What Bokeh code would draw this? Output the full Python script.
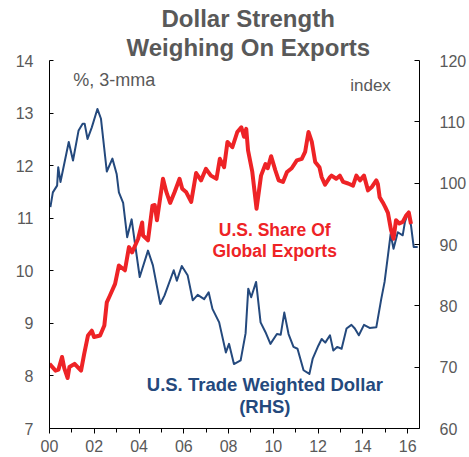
from bokeh.plotting import figure
from bokeh.models import Range1d, LinearAxis, FixedTicker, Label, Title
from bokeh.embed import file_html
from bokeh.resources import INLINE

# U.S. share of global exports (%, 3-mma), left axis
share_year = [2000.00, 2000.27, 2000.40, 2000.56, 2000.66, 2000.81, 2000.89, 2001.12, 2001.41, 2001.55,
              2001.72, 2001.89, 2001.99, 2002.26, 2002.45, 2002.56, 2002.70, 2002.93, 2003.10, 2003.37,
              2003.55, 2003.69, 2003.96, 2004.14, 2004.18, 2004.40, 2004.60, 2004.70, 2004.80, 2005.07,
              2005.22, 2005.39, 2005.59, 2005.81, 2005.93, 2006.10, 2006.33, 2006.55, 2006.77, 2006.99,
              2007.21, 2007.46, 2007.61, 2007.80, 2007.95, 2008.17, 2008.39, 2008.57, 2008.69, 2008.79,
              2008.87, 2009.06, 2009.25, 2009.45, 2009.65, 2009.75, 2009.90, 2010.09, 2010.24, 2010.43,
              2010.61, 2010.82, 2011.05, 2011.27, 2011.42, 2011.57, 2011.72, 2011.87, 2012.06, 2012.16,
              2012.31, 2012.53, 2012.60, 2012.81, 2012.97, 2013.12, 2013.34, 2013.56, 2013.71, 2013.87,
              2014.05, 2014.23, 2014.41, 2014.60, 2014.67, 2014.75, 2014.89, 2015.00, 2015.12, 2015.26,
              2015.37, 2015.48, 2015.63, 2015.78, 2015.93, 2016.05, 2016.15]
share_value = [8.23, 8.10, 8.12, 8.36, 8.15, 7.96, 8.17, 8.23, 8.10, 8.42,
               8.77, 8.86, 8.74, 8.77, 8.96, 9.40, 9.53, 9.75, 10.10, 10.01,
               10.45, 10.35, 10.61, 10.92, 10.67, 10.58, 11.24, 11.25, 10.96, 11.75,
               11.50, 11.29, 11.50, 11.75, 11.56, 11.50, 11.31, 11.86, 11.72, 11.94,
               11.81, 11.75, 12.13, 11.97, 12.45, 12.35, 12.64, 12.73, 12.55, 12.70,
               12.29, 11.88, 11.18, 11.81, 12.03, 11.95, 12.18, 11.91, 11.72, 11.69,
               11.88, 11.95, 12.10, 12.13, 12.26, 12.64, 12.45, 12.07, 11.97, 11.78,
               11.64, 11.78, 11.81, 11.75, 11.81, 11.69, 11.66, 11.62, 11.81, 11.72,
               11.81, 11.53, 11.60, 11.72, 11.65, 11.40, 11.30, 11.21, 11.10, 10.77,
               10.61, 10.96, 10.90, 10.93, 11.05, 11.11, 10.89]

# U.S. trade weighted dollar (index), right axis
dollar_year = [2000.04, 2000.15, 2000.34, 2000.39, 2000.49, 2000.86, 2001.05, 2001.30, 2001.48, 2001.57,
               2001.70, 2001.89, 2002.14, 2002.30, 2002.56, 2002.81, 2003.00, 2003.10, 2003.29, 2003.47,
               2003.67, 2003.81, 2004.03, 2004.40, 2004.62, 2004.95, 2005.14, 2005.55, 2005.69, 2005.91,
               2006.17, 2006.40, 2006.62, 2006.91, 2007.11, 2007.28, 2007.58, 2007.88, 2008.02, 2008.24,
               2008.54, 2008.76, 2008.88, 2009.01, 2009.23, 2009.43, 2009.65, 2009.87, 2010.16, 2010.33,
               2010.49, 2010.68, 2010.90, 2011.08, 2011.35, 2011.61, 2011.76, 2012.01, 2012.16, 2012.32,
               2012.53, 2012.68, 2012.85, 2013.05, 2013.27, 2013.49, 2013.64, 2013.82, 2014.05, 2014.30,
               2014.60, 2014.82, 2014.97, 2015.12, 2015.24, 2015.37, 2015.56, 2015.78, 2015.88, 2016.03,
               2016.15, 2016.27, 2016.45]
dollar_value = [96.1, 98.5, 99.6, 102.6, 100.2, 106.7, 103.7, 108.6, 109.7, 109.7,
                107.2, 109.1, 112.1, 110.5, 101.9, 104.0, 101.5, 98.5, 96.8, 91.2,
                94.1, 90.4, 84.7, 89.0, 86.6, 80.3, 81.7, 85.8, 84.1, 86.5,
                85.0, 80.9, 81.8, 81.1, 82.2, 79.5, 77.3, 72.4, 73.8, 70.5,
                71.1, 75.5, 82.8, 81.4, 83.9, 77.3, 75.7, 73.8, 75.4, 75.3,
                78.9, 75.4, 73.3, 73.0, 69.5, 68.9, 71.4, 73.5, 74.6, 74.0,
                75.2, 72.7, 73.3, 73.0, 76.3, 76.9, 76.3, 75.2, 76.9, 76.4,
                76.5, 81.1, 83.9, 88.2, 91.7, 89.3, 92.0, 91.5, 93.7, 95.3,
                93.1, 89.6, 89.6]

x_ticks = [2000, 2002, 2004, 2006, 2008, 2010, 2012, 2014, 2016]
x_tick_labels = ["00", "02", "04", "06", "08", "10", "12", "14", "16"]
x_minor = list(range(2000, 2017))
left_ticks = [7, 8, 9, 10, 11, 12, 13, 14]
right_ticks = [60, 70, 80, 90, 100, 110, 120]

title_lines = ["Dollar Strength", "Weighing On Exports"]
share_label = ["U.S. Share Of", "Global Exports"]
dollar_label = ["U.S. Trade Weighted Dollar", "(RHS)"]

RED = "#EE2326"
BLUE = "#24497D"
GRAY = "#595959"
FONT = "Liberation Sans"

p = figure(width=469, height=457, output_backend="svg", toolbar_location=None,
           x_range=Range1d(2000, 2016.53), y_range=Range1d(7, 14),
           min_border_left=49, min_border_right=47, min_border_top=60, min_border_bottom=29)
p.outline_line_color = None
p.xgrid.visible = False
p.ygrid.visible = False
p.extra_y_ranges = {"rhs": Range1d(60, 120)}

# title: second line added first (closest to the plot)
p.add_layout(Title(text=title_lines[1], align="left", offset=77, standoff=0,
                   text_font=FONT, text_font_size="24px", text_font_style="bold",
                   text_color=GRAY), "above")
p.add_layout(Title(text=title_lines[0], align="left", offset=112, standoff=0,
                   text_font=FONT, text_font_size="24px", text_font_style="bold",
                   text_color=GRAY), "above")

p.line(dollar_year, dollar_value, y_range_name="rhs", line_color=BLUE, line_width=2, line_join="round")
p.line(share_year, share_value, line_color=RED, line_width=4, line_join="round")

# x axis
xa = p.xaxis[0]
xa.ticker = FixedTicker(ticks=x_ticks, minor_ticks=x_minor)
xa.major_label_overrides = {t: l for t, l in zip(x_ticks, x_tick_labels)}
xa.major_tick_in = 0
xa.major_tick_out = 5
xa.minor_tick_in = 0
xa.minor_tick_out = 4
xa.major_label_standoff = 6
# left axis
ya = p.yaxis[0]
ya.ticker = FixedTicker(ticks=left_ticks)
ya.major_tick_in = 4
ya.major_tick_out = 0
ya.minor_tick_in = 0
ya.minor_tick_out = 0
ya.major_label_standoff = 16
# right axis
ra = LinearAxis(y_range_name="rhs", ticker=FixedTicker(ticks=right_ticks))
ra.major_tick_in = 5
ra.major_tick_out = 0
ra.minor_tick_in = 0
ra.minor_tick_out = 0
ra.major_label_standoff = 20
p.add_layout(ra, "right")

for ax in (xa, ya, ra):
    ax.axis_line_color = "black"
    ax.major_tick_line_color = "black"
    ax.minor_tick_line_color = "black"
    ax.major_label_text_color = GRAY
    ax.major_label_text_font = FONT
    ax.major_label_text_font_size = "16px"

def add_label(x, y, text, size, color, bold=False, align="center", y_range_name="default"):
    p.add_layout(Label(x=x, y=y, text=text, text_font=FONT, text_font_size=size,
                       text_color=color, text_font_style="bold" if bold else "normal",
                       text_align=align, text_baseline="middle", y_range_name=y_range_name))

add_label(2001.06, 13.62, "%, 3-mma", "18px", GRAY, align="left")
add_label(2015.25, 13.52, "index", "17px", GRAY, align="right")
add_label(2010.06, 10.77, share_label[0], "17.5px", RED, bold=True)
add_label(2010.06, 10.37, share_label[1], "17.5px", RED, bold=True)
add_label(2009.62, 7.84, dollar_label[0], "18.5px", BLUE, bold=True)
add_label(2009.62, 7.42, dollar_label[1], "18.5px", BLUE, bold=True)

open("out.html", "w").write(file_html(p, INLINE))
